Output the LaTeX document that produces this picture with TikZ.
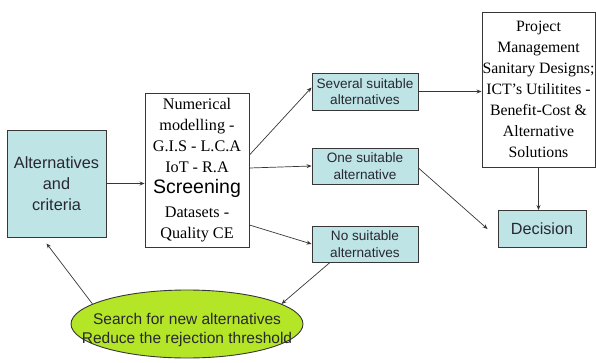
\documentclass[tikz,border=0pt]{standalone}
\usepackage{fontspec}
\setmainfont{Liberation Serif}
\setsansfont{Liberation Sans}
\usetikzlibrary{arrows.meta,shapes.geometric}

\definecolor{boxcyan}{RGB}{190,228,230}
\definecolor{searchgreen}{RGB}{180,229,38}
\definecolor{edgegray}{RGB}{55,55,55}
\definecolor{inkgray}{RGB}{40,40,50}

\tikzset{
	cyanbox/.style={draw=edgegray, fill=boxcyan, line width=0.9pt, text=inkgray,
		align=center, inner sep=0pt, font=\sffamily\fontsize{13.6}{16.5}\selectfont},
	whitebox/.style={draw=edgegray, fill=white, line width=0.9pt, text=black,
		align=center, inner sep=0pt, font=\fontsize{16.2}{21}\selectfont},
	link/.style={draw=edgegray, line width=0.7pt, -{Stealth[length=5pt,width=4pt]}},
}

\begin{document}
\begin{tikzpicture}[x=1pt, y=1pt]

% frame %{{{2

	\useasboundingbox (0,0) rectangle (596,362);

% boxes %{{{2

	\node[cyanbox, minimum width=99, minimum height=107,
		font=\sffamily\fontsize{16.3}{21}\selectfont] (alt) at (56.5,178.5)
		{Alternatives\\and\\criteria};

	\node[whitebox, minimum width=104, minimum height=154] (screen) at (197,192)
		{Numerical\\modelling -\\G.I.S - L.C.A\\IoT - R.A\\
		{\sffamily\fontsize{19.5}{21}\selectfont Screening}\\[3pt]Datasets -\\Quality CE};

	\node[cyanbox, minimum width=106, minimum height=37] (several) at (365,270.5)
		{Several suitable\\alternatives};
	\node[cyanbox, minimum width=106, minimum height=36] (one) at (365,196)
		{One suitable\\alternative};
	\node[cyanbox, minimum width=106, minimum height=36] (none) at (365,118)
		{No suitable\\alternatives};

	\node[whitebox, minimum width=113, minimum height=155,
		font=\fontsize{15.8}{21}\selectfont] (project) at (538.5,272.5)
		{Project\\Management\\Sanitary Designs;\\ICT's Utilitites -\\Benefit-Cost \&\\Alternative\\Solutions};

	\node[cyanbox, minimum width=88, minimum height=37,
		font=\sffamily\fontsize{16.2}{19}\selectfont] (decision) at (542,133)
		{Decision};

	\node[ellipse, draw=edgegray, fill=searchgreen, line width=0.9pt, text=inkgray,
		align=center, inner xsep=-26pt, inner ysep=0pt, minimum width=232, minimum height=68,
		font=\sffamily\fontsize{15.5}{19}\selectfont] (search) at (187,38)
		{\rule{0pt}{24pt}Search for new alternatives\\Reduce the rejection threshold};

% connectors %{{{2

	\draw[link] (alt.east) -- (alt.east -| screen.west);

	\draw[link] ([yshift=15]screen.east) -- ([yshift=4]several.west);
	\draw[link] ([yshift=2]screen.east) -- (one.west);
	\draw[link] ([yshift=-55]screen.east) -- (none.west);

	\draw[link] (several.east) -- (several.east -| project.west);
	\draw[link] ([yshift=-2]one.east) -- ([xshift=-10]decision.west);
	\draw[link] (project.south) -- (project.south |- decision.north);

	\draw[link] ([xshift=-35]none.south) -- (search.12);
	\draw[link] (search.168) -- ([xshift=-10,yshift=-6]alt.south);

% closing %{{{2

\end{tikzpicture}
\end{document}
